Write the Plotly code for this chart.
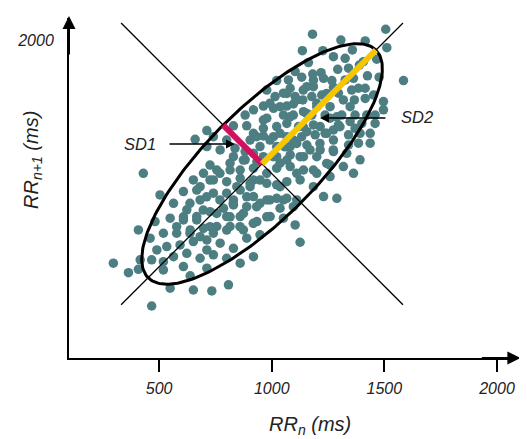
import numpy as np
import plotly.graph_objects as go

# RR intervals (ms): successive pairs (RR_n, RR_n+1)
rr_n = [1506, 1181, 1307, 1415, 1511, 1136, 1227, 1358, 1466, 1326, 1274, 1163, 1585, 1389, 1293, 1104,
        1182, 1219, 1341, 1425, 1477, 1133, 1074, 1022, 1267, 1326, 1385, 1415, 1355, 1185, 1274, 978,
        1015, 1104, 1138, 1178, 1222, 1318, 1367, 1415, 1452, 1496, 1296, 1067, 1096, 963, 1008, 1200,
        1259, 1348, 1311, 1052, 882, 919, 978, 1096, 1141, 1178, 1237, 1370, 1422, 1459, 1496, 1259,
        830, 889, 963, 1022, 1067, 1119, 1185, 1296, 1348, 1400, 1459, 1437, 1392, 1341, 712, 660,
        741, 800, 919, 963, 1008, 1067, 1133, 1193, 1237, 1274, 1341, 1385, 1437, 712, 771, 837,
        882, 948, 1022, 1082, 1156, 1215, 1274, 1333, 1392, 726, 815, 882, 934, 1022, 1082, 1141,
        1200, 1259, 1318, 1363, 430, 504, 608, 652, 682, 741, 800, 860, 919, 978, 1022, 1082,
        1141, 1200, 1259, 564, 623, 682, 741, 800, 860, 904, 978, 1022, 1067, 1126, 1185, 1230,
        1289, 549, 608, 667, 726, 786, 830, 889, 948, 978, 1022, 1067, 1111, 482, 408, 460,
        519, 578, 638, 697, 756, 815, 874, 934, 993, 1052, 1104, 534, 593, 652, 712, 771,
        830, 889, 948, 1126, 297, 364, 416, 467, 519, 408, 519, 608, 682, 741, 800, 860,
        919, 638, 712, 549, 652, 734, 808, 467, 860, 919, 963, 756, 697, 830, 919, 860,
        800, 682, 741, 623, 712, 564, 490, 1096, 1037, 830, 919, 1037, 1096, 1156, 1215, 1274,
        1370, 1052, 1082, 1156, 1230, 1363, 1407,
        933, 992, 1037, 1059, 1111, 1007, 1067, 1126, 1170, 1214, 1244, 1140, 1081, 1155, 1200, 1111,
        1037, 963, 904, 874, 815, 770, 726, 845, 904, 948, 889, 829, 770, 711, 667, 637,
        696, 756, 815, 874, 933, 992, 1052, 1037, 1111, 1185, 1244, 1273, 1303, 1289, 1244, 1185,
        1140, 1067, 992, 608, 667, 726, 800, 859, 918, 978, 578, 637]
rr_n1 = [2048, 2026, 2000, 1996, 1966, 1953, 1953, 1956, 1915, 1919, 1926, 1900, 1820, 1889, 1870, 1860,
         1849, 1855, 1875, 1841, 1835, 1835, 1823, 1820, 1820, 1823, 1786, 1786, 1778, 1793, 1790, 1778,
         1749, 1749, 1734, 1749, 1756, 1734, 1734, 1741, 1756, 1727, 1764, 1707, 1716, 1707, 1697, 1704,
         1704, 1704, 1667, 1667, 1667, 1690, 1653, 1667, 1682, 1667, 1667, 1667, 1667, 1667, 1690, 1653,
         1619, 1619, 1608, 1616, 1630, 1616, 1623, 1623, 1638, 1630, 1630, 1586, 1586, 1579, 1598, 1559,
         1571, 1556, 1586, 1574, 1571, 1571, 1571, 1579, 1586, 1556, 1534, 1542, 1542, 1527, 1512, 1519,
         1505, 1527, 1527, 1527, 1534, 1512, 1505, 1497, 1468, 1445, 1453, 1468, 1460, 1482, 1490, 1482,
         1482, 1445, 1438, 1408, 1408, 1312, 1327, 1379, 1349, 1379, 1371, 1386, 1379, 1408, 1431, 1438,
         1423, 1408, 1394, 1275, 1246, 1290, 1320, 1320, 1334, 1349, 1364, 1357, 1371, 1379, 1349, 1305,
         1297, 1209, 1201, 1216, 1238, 1253, 1268, 1260, 1275, 1290, 1297, 1297, 1290, 1194, 1157, 1120,
         1142, 1142, 1157, 1164, 1172, 1172, 1157, 1194, 1216, 1209, 1179, 1083, 1090, 1105, 1112, 1098,
         1075, 1120, 1135, 1102, 1009, 967, 1024, 1024, 1016, 982, 979, 994, 1031, 1046, 1031, 1009,
         1038, 953, 987, 898, 890, 886, 913, 819, 1423, 1431, 1482, 1423, 1408, 1290, 1305, 1216,
         1216, 1127, 1142, 1053, 1068, 1038, 1068, 1260, 1253, 1482, 1497, 1453, 1556, 1593, 1616, 1601,
         1608, 1764, 1786, 1793, 1830, 1830, 1904,
         1571, 1556, 1586, 1526, 1541, 1482, 1467, 1482, 1512, 1541, 1586, 1615, 1659, 1674, 1719, 1734,
         1704, 1645, 1556, 1467, 1423, 1408, 1378, 1349, 1364, 1378, 1304, 1275, 1290, 1304, 1334, 1275,
         1245, 1230, 1215, 1230, 1260, 1290, 1290, 1349, 1408, 1423, 1452, 1512, 1615, 1659, 1763, 1822,
         1778, 1763, 1719, 1215, 1201, 1171, 1156, 1171, 1186, 1215, 1171, 1142]

# ellipse descriptors (ms)
centre_x, centre_y = 957, 1450
sd1, sd2 = 244, 715

x_ticks = [500, 1000, 1500, 2000]
y_ticks = [2000]

FONT = "Liberation Sans, Arial, sans-serif"
DOT = "#4d7e82"

fig = go.Figure()

fig.add_trace(go.Scatter(x=rr_n, y=rr_n1, mode="markers",
                         marker=dict(size=9.5, color=DOT, line=dict(width=0)),
                         hoverinfo="skip", showlegend=False))

# axes of the ellipse (line of identity direction and its perpendicular through the centre)
u = np.array([1.0, 1.0]) / np.sqrt(2)
v = np.array([-1.0, 1.0]) / np.sqrt(2)
half_len = 885
for d in (u, v):
    fig.add_trace(go.Scatter(x=[centre_x - half_len * d[0], centre_x + half_len * d[0]],
                             y=[centre_y - half_len * d[1], centre_y + half_len * d[1]],
                             mode="lines", line=dict(color="black", width=1.3),
                             hoverinfo="skip", showlegend=False))

# fitted ellipse
t = np.linspace(0, 2 * np.pi, 240)
ex = centre_x + sd2 * np.cos(t) * u[0] + sd1 * np.sin(t) * v[0]
ey = centre_y + sd2 * np.cos(t) * u[1] + sd1 * np.sin(t) * v[1]
fig.add_trace(go.Scatter(x=ex, y=ey, mode="lines", line=dict(color="black", width=3),
                         hoverinfo="skip", showlegend=False))

# SD1 and SD2 segments
fig.add_trace(go.Scatter(x=[centre_x, centre_x + sd1 * v[0]], y=[centre_y, centre_y + sd1 * v[1]],
                         mode="lines", line=dict(color="#d1105e", width=6),
                         hoverinfo="skip", showlegend=False))
fig.add_trace(go.Scatter(x=[centre_x, centre_x + sd2 * u[0]], y=[centre_y, centre_y + sd2 * u[1]],
                         mode="lines", line=dict(color="#f7c600", width=6),
                         hoverinfo="skip", showlegend=False))

ann = []
# axis arrowheads
ann.append(dict(x=1.012, y=0, xref="paper", yref="paper", ax=-40, ay=0, text="",
                showarrow=True, arrowhead=2, arrowsize=1.3, arrowwidth=2, arrowcolor="black"))
ann.append(dict(x=0, y=1.006, xref="paper", yref="paper", ax=0, ay=40, text="",
                showarrow=True, arrowhead=2, arrowsize=1.3, arrowwidth=2, arrowcolor="black"))
# SD labels with arrows
ann.append(dict(x=837, y=1538, xref="x", yref="y", ax=-67, ay=0, text="",
                showarrow=True, arrowhead=2, arrowsize=1.2, arrowwidth=1.5, arrowcolor="black"))
ann.append(dict(x=1214, y=1654, xref="x", yref="y", ax=67, ay=0, text="",
                showarrow=True, arrowhead=2, arrowsize=1.2, arrowwidth=1.5, arrowcolor="black"))
ann.append(dict(x=415, y=1538, xref="x", yref="y", text="<i>SD1</i>", showarrow=False,
                font=dict(family=FONT, size=16.5, color="#222")))
ann.append(dict(x=1645, y=1658, xref="x", yref="y", text="<i>SD2</i>", showarrow=False,
                font=dict(family=FONT, size=16.5, color="#222")))
# axis titles
ann.append(dict(x=0.540, y=-0.241, xref="paper", yref="paper", showarrow=False,
                text="<i>RR<sub>n</sub> (ms)</i>", font=dict(family=FONT, size=20, color="#222")))
ann.append(dict(x=-0.116, y=0.582, xref="paper", yref="paper", showarrow=False, textangle=-90,
                text="<i>RR<sub>n+1</sub> (ms)</i>", font=dict(family=FONT, size=20, color="#222")))

fig.update_layout(
    width=519, height=431,
    margin=dict(l=61, r=12, t=10, b=81),
    paper_bgcolor="white", plot_bgcolor="white",
    annotations=ann,
    xaxis=dict(range=[100, 2080], tickvals=x_ticks, ticktext=[str(v) for v in x_ticks],
               ticks="outside", ticklen=12, tickwidth=2, tickcolor="black",
               showline=True, linewidth=2, linecolor="black", showgrid=False, zeroline=False,
               ticklabelstandoff=3,
               tickfont=dict(family=FONT, size=16, color="#222", style="italic")),
    yaxis=dict(range=[588, 2098], tickvals=y_ticks, ticktext=[str(v) for v in y_ticks],
               ticks="", showline=True, linewidth=2, linecolor="black", showgrid=False,
               zeroline=False, ticklabelstandoff=10,
               tickfont=dict(family=FONT, size=16, color="#222", style="italic")),
)

fig.write_html("out.html")
